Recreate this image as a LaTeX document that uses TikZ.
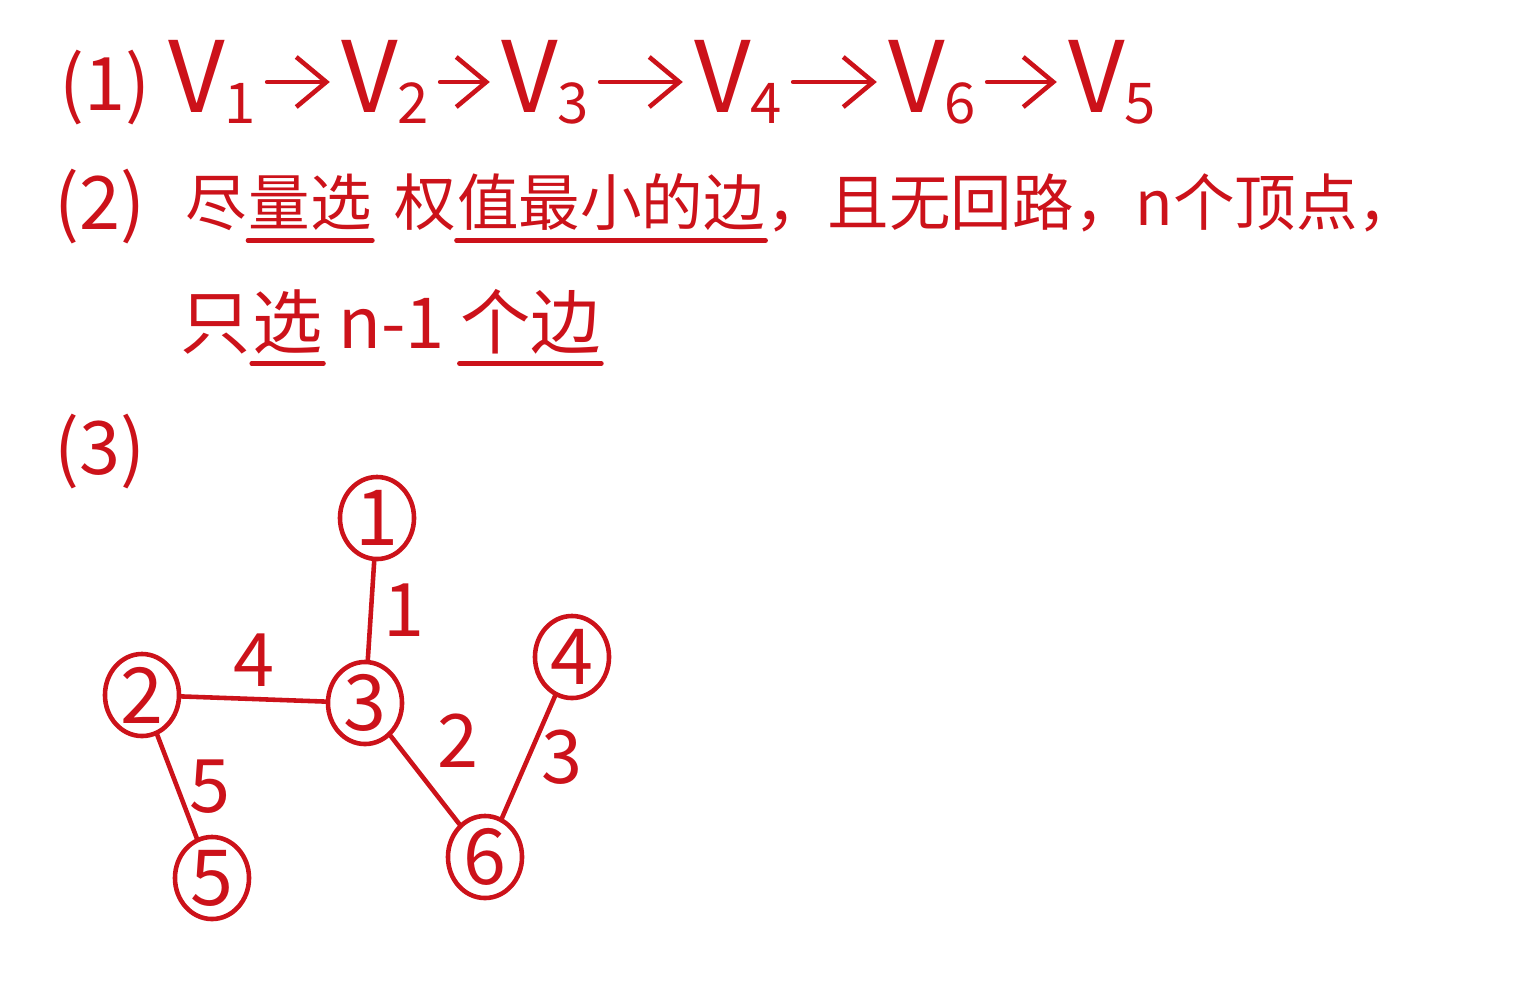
\documentclass[tikz,border=0pt]{standalone}
\usepackage{fontspec}
\setmainfont{Noto Sans CJK SC}
\usetikzlibrary{
  arrows.meta,
  positioning,
  shapes.geometric
}
\definecolor{InkRed}{RGB}{204,18,26}
\tikzset{
  ink/.style={draw=InkRed,line width=1.3pt,line cap=round},
  marker/.style={text=InkRed,inner sep=0pt,font=\fontsize{21}{24}\selectfont},
  vname/.style={text=InkRed,inner sep=3pt,font=\fontsize{28}{32}\selectfont\light},
  cntext/.style={text=InkRed,inner sep=0pt,text height=0.88em,text depth=0.12em,
    font=\fontsize{17.5}{20}\selectfont},
  cnbig/.style={cntext,font=\fontsize{20}{23}\selectfont},
  vtx/.style={ellipse,ink,minimum width=7.4mm,minimum height=8.2mm,inner sep=0pt,
    text=InkRed,font=\fontsize{22}{26}\selectfont},
  wlabel/.style={text=InkRed,inner sep=3pt,font=\fontsize{21}{24}\selectfont},
  steparrow/.style={ink,-{Straight Barb[length=3mm,width=5mm,line width=1.3pt]}},
  edge/.style={ink},
  uline/.style={ink}
}
\newcommand{\light}{}
\newcommand{\vsub}[2]{#1{\fontsize{16}{18}\selectfont\raisebox{-0.35ex}{#2}}}

\begin{document}
\begin{tikzpicture}[x=0.01cm,y=-0.01cm]
  \useasboundingbox (0,0) rectangle (1522,1000);

  % (1) visiting order
  \node[marker] (m1) at (105,88) {(1)};
  \node[vname] (v1) at (212,82) {\vsub{V}{1}};
  \node[vname] (v2) at (385,82) {\vsub{V}{2}};
  \node[vname] (v3) at (545,82) {\vsub{V}{3}};
  \node[vname] (v4) at (738,82) {\vsub{V}{4}};
  \node[vname] (v6) at (932,82) {\vsub{V}{6}};
  \node[vname] (v5) at (1112,82) {\vsub{V}{5}};
  \draw[steparrow] (v1) -- (v2);
  \draw[steparrow] (v2) -- (v3);
  \draw[steparrow] (v3) -- (v4);
  \draw[steparrow] (v4) -- (v6);
  \draw[steparrow] (v6) -- (v5);

  % (2) rule
  \node[marker] (m2) at (100,207) {(2)};
  \node[cntext,anchor=base west] (r2a) at (185,225) {尽};
  \node[cntext,base right=0pt of r2a] (r2b) {量选};
  \node[cntext,base right=6pt of r2b] (r2c) {权};
  \node[cntext,base right=0pt of r2c] (r2d) {值最小的边};
  \node[cntext,base right=0pt of r2d] (r2e) {，且无回路，n个顶点，};
  \draw[uline] ([yshift=-3pt]r2b.south west) -- ([yshift=-3pt]r2b.south east);
  \draw[uline] ([yshift=-3pt]r2d.south west) -- ([yshift=-3pt]r2d.south east);

  \node[cnbig,anchor=base west] (r3a) at (180,348) {只};
  \node[cnbig,base right=0pt of r3a] (r3b) {选};
  \node[cnbig,base right=4pt of r3b] (r3c) {n-1};
  \node[cnbig,base right=4pt of r3c] (r3d) {个边};
  \draw[uline] ([yshift=-3pt]r3b.south west) -- ([yshift=-3pt]r3b.south east);
  \draw[uline] ([yshift=-3pt]r3d.south west) -- ([yshift=-3pt]r3d.south east);

  % (3) spanning tree
  \node[marker] (m3) at (100,452) {(3)};
  \node[vtx] (n1) at (377,518) {1};
  \node[vtx] (n2) at (142,695) {2};
  \node[vtx] (n3) at (365,703) {3};
  \node[vtx] (n4) at (572,657) {4};
  \node[vtx] (n5) at (212,878) {5};
  \node[vtx] (n6) at (485,857) {6};

  \draw[edge] (n1) -- (n3) node[wlabel,midway,right] {1};
  \draw[edge] (n2) -- (n3) node[wlabel,midway,above] {4};
  \draw[edge] (n3) -- (n6) node[wlabel,midway,above right] {2};
  \draw[edge] (n4) -- (n6) node[wlabel,midway,right] {3};
  \draw[edge] (n2) -- (n5) node[wlabel,midway,right] {5};
\end{tikzpicture}
\end{document}
